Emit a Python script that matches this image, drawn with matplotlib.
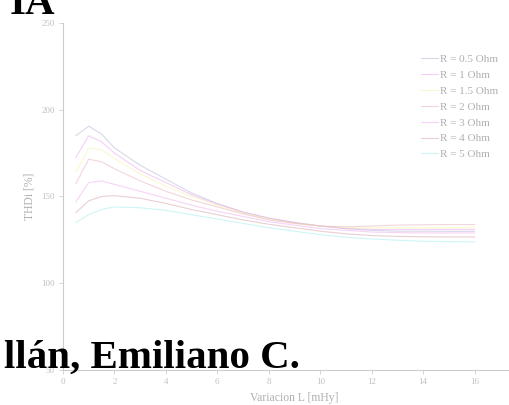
import matplotlib
matplotlib.use("Agg")
import matplotlib.pyplot as plt

# inductance variation [mHy]
L = [0.5, 1, 1.5, 2, 3, 4, 5, 6, 7, 8, 9, 10, 11, 12, 13, 14, 15, 16]

# THDi [%] for each resistance
thd_r05 = [185, 190.5, 186, 178, 168, 160, 152, 146, 141, 137.5, 135, 133, 131.5, 130.5, 130, 130, 129.9, 129.9]
thd_r1 = [172.5, 185, 181.5, 175, 165, 158, 151, 145.5, 141, 137.5, 135, 133, 131.5, 131, 131, 131, 131, 131]
thd_r15 = [164, 178, 177, 172, 163, 156, 150, 145, 140.5, 137, 134.5, 133, 132, 132, 132, 132, 132, 132.1]
thd_r2 = [157.5, 171.5, 170, 166, 159, 153, 148, 144, 140, 136.5, 134.5, 133, 132.5, 133, 133.5, 133.7, 133.8, 133.8]
thd_r3 = [147, 158, 159, 157, 153, 149, 145, 141.5, 138.5, 135.5, 133.5, 131.5, 130.5, 129.5, 129.2, 129, 129, 129]
thd_r4 = [140.7, 147.5, 150, 150.5, 149, 146, 142.5, 139.5, 136.5, 134, 132, 130, 128.5, 127.5, 127, 126.8, 126.7, 126.7]
thd_r5 = [135, 139.5, 142.5, 144, 143.5, 142, 139.5, 137, 134.5, 132, 130, 128, 126.5, 125.5, 124.8, 124.2, 124, 123.8]

labels = ["R = 0.5 Ohm", "R = 1 Ohm", "R = 1.5 Ohm", "R = 2 Ohm",
          "R = 3 Ohm", "R = 4 Ohm", "R = 5 Ohm"]
colors = ["#b8b8dc", "#f0a8f0", "#f4f4a8", "#e8b4bc", "#f0b0f0", "#d8a8b0", "#a8ecec"]
series = [thd_r05, thd_r1, thd_r15, thd_r2, thd_r3, thd_r4, thd_r5]

serif = "Liberation Serif"
fig = plt.figure(figsize=(5.1, 4.05), dpi=100)
ax = fig.add_axes([63/510, 35/405, 463/510, 347/405])

for y, c, lab in zip(series, colors, labels):
    ax.plot(L, y, color=c, lw=0.8, alpha=0.55, label=lab)

ax.set_xlim(0, 18)
ax.set_ylim(50, 250)
ax.set_xticks(range(0, 19, 2))
ax.set_yticks([50, 100, 150, 200, 250])

for s in ["top", "right"]:
    ax.spines[s].set_visible(False)
for s in ["left", "bottom"]:
    ax.spines[s].set_color("#cccccc")
    ax.spines[s].set_linewidth(0.8)
ax.tick_params(length=3, width=0.6, color="#cccccc", labelsize=6.5,
               labelcolor="#c0c0c0", pad=3)
for t in ax.get_xticklabels() + ax.get_yticklabels():
    t.set_family(serif)

ax.set_xlabel("Variacion L [mHy]", family=serif, fontsize=8.4, color="#b0b0b0", labelpad=4)
ax.set_ylabel("THDi [%]", family=serif, fontsize=8.4, color="#b0b0b0", labelpad=4)

leg = ax.legend(loc="upper left", bbox_to_anchor=(421/510, 0.866),
                bbox_transform=fig.transFigure, frameon=False,
                prop={"family": serif, "size": 8}, handlelength=1.5,
                handletextpad=0.25, labelspacing=0.55, borderpad=0, borderaxespad=0)
for t in leg.get_texts():
    t.set_color("#b0b0b0")

fig.text(55/510, (405-14)/405, "IA", ha="right", va="baseline",
         fontsize=29.5, fontweight="bold", family=serif, color="black")
fig.text(300/510, (405-368)/405, "llán, Emiliano C.", ha="right", va="baseline",
         fontsize=29.5, fontweight="bold", family=serif, color="black")

fig.savefig("out.png", dpi=100)
